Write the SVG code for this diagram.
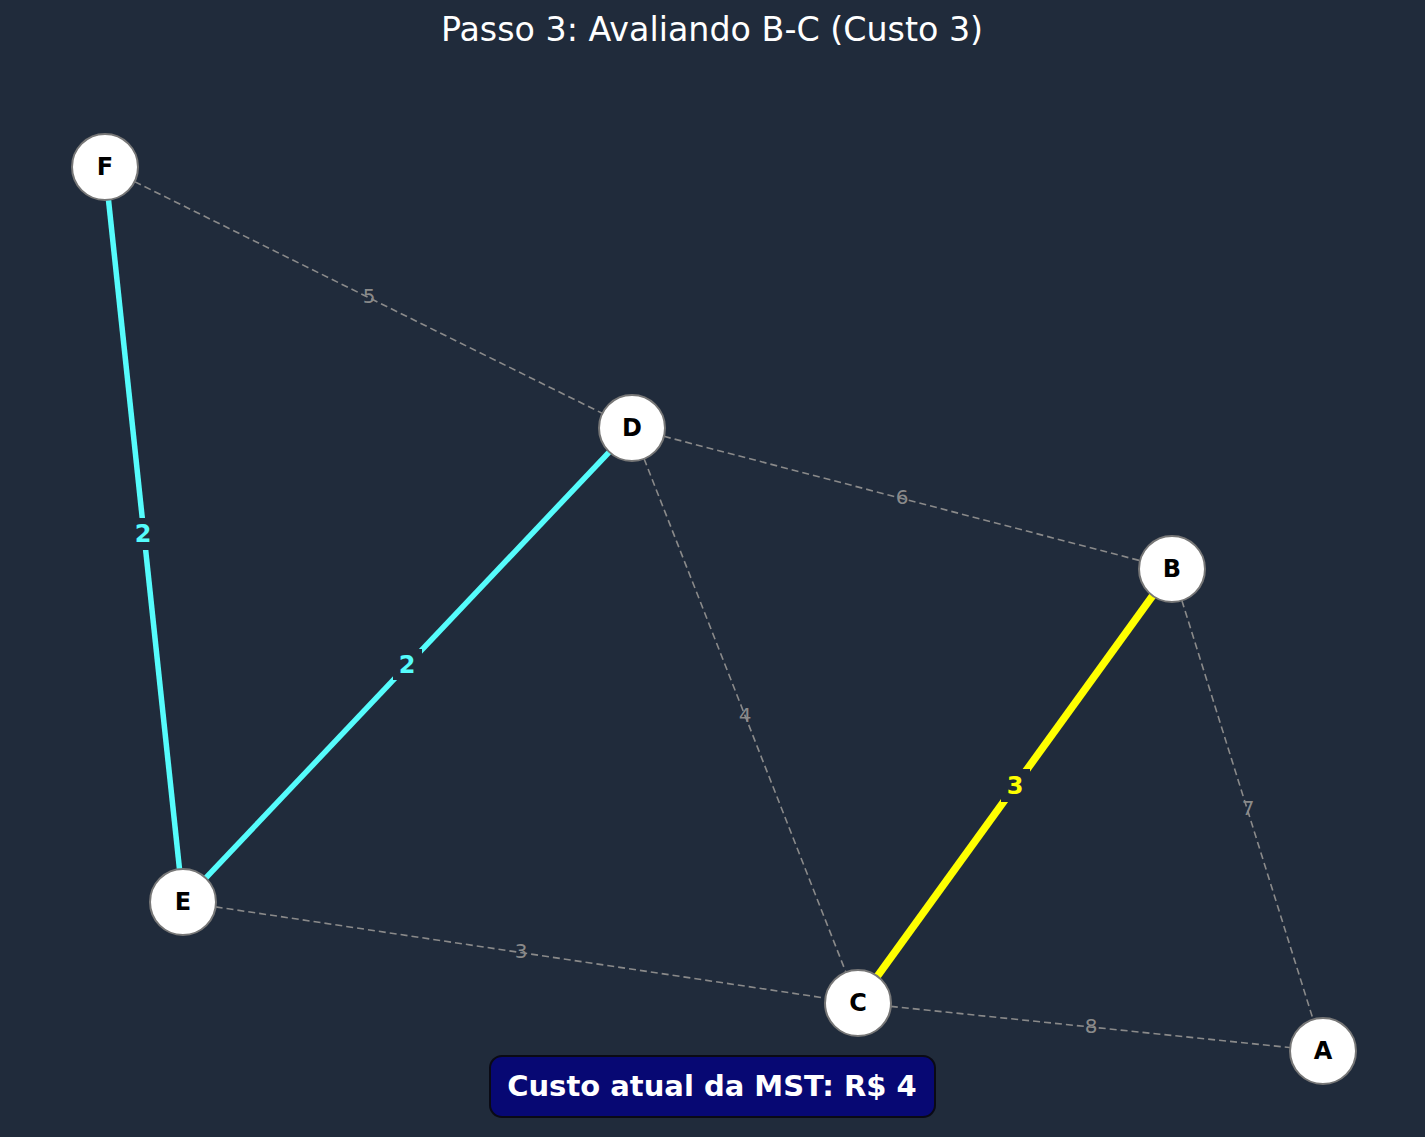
<svg xmlns="http://www.w3.org/2000/svg" width="1425" height="1137" viewBox="0 0 1425 1137">
<style>
.bg{fill:#202b3b}
.dash{stroke:#8a8a8a;stroke-width:1.6;stroke-dasharray:7 4;fill:none}
.mst{stroke:#55fcfc;stroke-width:5.5;fill:none}
.cur{stroke:#ffff00;stroke-width:7.5;fill:none}
.lblbox{fill:#202b3b}
.glbl{font-family:"DejaVu Sans",sans-serif;font-size:20px;fill:#8a8a8a;text-anchor:middle}
.clbl{font-family:"DejaVu Sans",sans-serif;font-size:24px;font-weight:bold;text-anchor:middle}
.node circle{fill:#ffffff;stroke:#777777;stroke-width:2}
.node text{font-family:"DejaVu Sans",sans-serif;font-size:24px;font-weight:bold;fill:#000;text-anchor:middle}
</style>
<rect class="bg" x="0" y="0" width="1425" height="1137"/>
<text x="712" y="41" style="font-family:'DejaVu Sans',sans-serif;font-size:33.3px;fill:#ffffff;text-anchor:middle">Passo 3: Avaliando B-C (Custo 3)</text>
<g id="connectors">
  <line class="dash" x1="105" y1="167" x2="632" y2="428"/>
  <line class="dash" x1="632" y1="428" x2="1172" y2="569"/>
  <line class="dash" x1="632" y1="428" x2="858" y2="1003"/>
  <line class="dash" x1="1172" y1="569" x2="1323" y2="1051"/>
  <line class="dash" x1="183" y1="902" x2="858" y2="1003"/>
  <line class="dash" x1="858" y1="1003" x2="1323" y2="1051"/>
  <text class="glbl" x="369" y="303">5</text>
  <text class="glbl" x="902" y="504">6</text>
  <text class="glbl" x="745" y="722">4</text>
  <text class="glbl" x="1248" y="815">7</text>
  <text class="glbl" x="521" y="958">3</text>
  <text class="glbl" x="1091" y="1033">8</text>
  <line class="mst" x1="105" y1="167" x2="183" y2="902"/>
  <line class="mst" x1="632" y1="428" x2="183" y2="902"/>
  <line class="cur" x1="1172" y1="569" x2="858" y2="1003"/>
  <rect class="lblbox" x="129" y="518" width="29" height="32"/>
  <text class="clbl" x="143" y="542" fill="#55fcfc">2</text>
  <rect class="lblbox" x="393" y="649" width="29" height="31"/>
  <text class="clbl" x="407" y="673" fill="#55fcfc">2</text>
  <rect class="lblbox" x="1001" y="769" width="29" height="33"/>
  <text class="clbl" x="1015" y="794" fill="#ffff00">3</text>
</g>
<g id="node-F" class="node"><circle cx="105" cy="167" r="33"/><text x="105" y="175">F</text></g>
<g id="node-D" class="node"><circle cx="632" cy="428" r="33"/><text x="632" y="436">D</text></g>
<g id="node-B" class="node"><circle cx="1172" cy="569" r="33"/><text x="1172" y="577">B</text></g>
<g id="node-E" class="node"><circle cx="183" cy="902" r="33"/><text x="183" y="910">E</text></g>
<g id="node-C" class="node"><circle cx="858" cy="1003" r="33"/><text x="858" y="1011">C</text></g>
<g id="node-A" class="node"><circle cx="1323" cy="1051" r="33"/><text x="1323" y="1059">A</text></g>
<g id="cost-box">
  <rect x="490" y="1056" width="445" height="61" rx="12" fill="#070873" stroke="#0a0a14" stroke-width="2"/>
  <text x="712" y="1096" style="font-family:'DejaVu Sans',sans-serif;font-size:29px;font-weight:bold;fill:#ffffff;text-anchor:middle">Custo atual da MST: R$ 4</text>
</g>
</svg>
